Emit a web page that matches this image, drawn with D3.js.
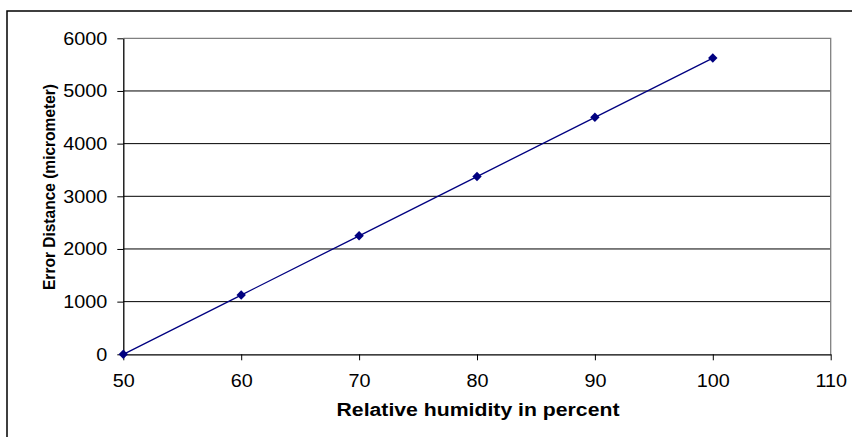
<html>
<head>
    <script src="https://d3js.org/d3.v7.min.js"></script>
    <style>
        body { margin: 0; background: #fff; }
        svg text { font-family: "Liberation Sans", Arial, sans-serif; fill: #000; }
        .tick text { font-size: 18px; }
        .title { font-weight: bold; }
    </style>
</head>
<body>
<script>
        var humidity = [50, 60, 70, 80, 90, 100]; // relative humidity (%)
        var errorDist = [0, 1125, 2250, 3375, 4500, 5625]; // error distance (micrometer)
        var xTicks = [50, 60, 70, 80, 90, 100, 110];
        var yTicks = [0, 1000, 2000, 3000, 4000, 5000, 6000];

        var width = 852, height = 437;
        var plotL = 123.3, plotR = 830.7, plotT = 38.3, plotB = 354.3; // plot area edges

        var svg = d3.select("body").append("svg")
                  .attr("width", width)
                  .attr("height", height);

        // outer frame of the chart (only left and top edges show)
        svg.append("rect")
           .attr("x", 7).attr("y", 11)
           .attr("width", width).attr("height", height)
           .attr("fill", "none")
           .attr("stroke", "#000")
           .attr("stroke-width", 1.5);

        var x = d3.scaleLinear().domain([50, 110]).range([plotL, plotR]);
        var y = d3.scaleLinear().domain([0, 6000]).range([plotB, plotT]);

        // horizontal gridlines
        svg.append("g").selectAll("line")
           .data(yTicks.filter(function(d) { return d > 0 && d < 6000; }))
           .enter().append("line")
           .attr("x1", plotL).attr("x2", plotR)
           .attr("y1", function(d) { return y(d); })
           .attr("y2", function(d) { return y(d); })
           .attr("stroke", "#000")
           .attr("stroke-width", 1);

        // gray plot border on top and right
        svg.append("path")
           .attr("d", "M" + plotL + "," + plotT + "H" + plotR + "V" + plotB)
           .attr("fill", "none")
           .attr("stroke", "#808080")
           .attr("stroke-width", 1.3);

        var xAxis = svg.append("g")
           .attr("transform", "translate(0," + plotB + ")")
           .call(d3.axisBottom(x).tickValues(xTicks).tickSize(6).tickPadding(14).tickSizeOuter(0));

        var yAxis = svg.append("g")
           .attr("transform", "translate(" + plotL + ",0)")
           .call(d3.axisLeft(y).tickValues(yTicks).tickFormat(d3.format("d")).tickSize(6).tickPadding(10).tickSizeOuter(0));

        [xAxis, yAxis].forEach(function(a) {
            a.attr("font-family", null).attr("font-size", null);
            a.select(".domain").attr("stroke", "#000").attr("stroke-width", 1.3);
            a.selectAll(".tick line").attr("stroke", "#000");
            // the reference labels are a little wider than the font, so stretch them
            a.selectAll(".tick text").each(function() {
                d3.select(this)
                  .attr("textLength", this.getComputedTextLength() * 1.1)
                  .attr("lengthAdjust", "spacingAndGlyphs");
            });
        });

        // the data line
        var pts = humidity.map(function(h, i) { return [h, errorDist[i]]; });
        svg.append("path")
           .datum(pts)
           .attr("fill", "none")
           .attr("stroke", "#000080")
           .attr("stroke-width", 1.3)
           .attr("d", d3.line().x(function(d) { return x(d[0]); }).y(function(d) { return y(d[1]); }));

        // diamond markers
        svg.selectAll(".marker")
           .data(pts)
           .enter().append("path")
           .attr("class", "marker")
           .attr("transform", function(d) { return "translate(" + x(d[0]) + "," + y(d[1]) + ")"; })
           .attr("d", "M0,-4.7L4.7,0L0,4.7L-4.7,0Z")
           .attr("fill", "#000080");

        // axis titles
        svg.append("text")
           .attr("class", "title")
           .attr("x", 478).attr("y", 416)
           .attr("text-anchor", "middle")
           .attr("font-size", 18)
           .attr("textLength", 283)
           .attr("lengthAdjust", "spacingAndGlyphs")
           .text("Relative humidity in percent");

        svg.append("text")
           .attr("class", "title")
           .attr("transform", "translate(55,187) rotate(-90)")
           .attr("text-anchor", "middle")
           .attr("font-size", 16)
           .attr("textLength", 206)
           .attr("lengthAdjust", "spacingAndGlyphs")
           .text("Error Distance (micrometer)");
</script>
</body>
</html>
